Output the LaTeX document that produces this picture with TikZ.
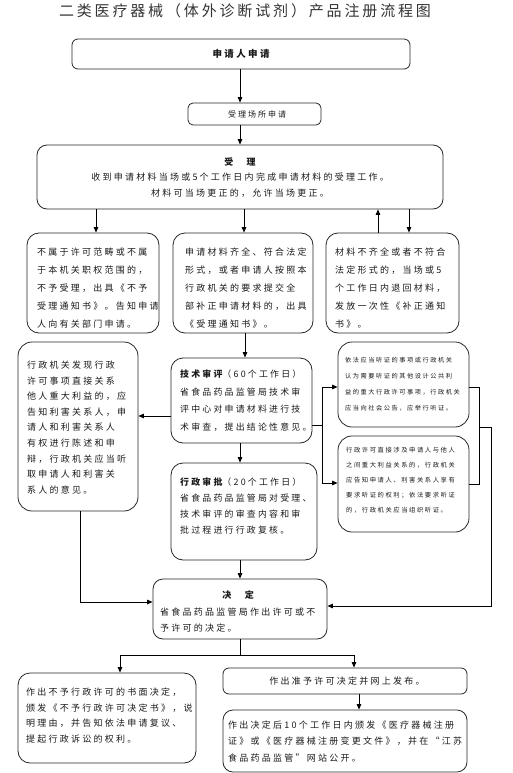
\documentclass[tikz,border=0pt]{standalone}
\usepackage{fontspec}
\usetikzlibrary{arrows.meta}
\newfontfamily\cjk{Noto Sans CJK SC}[LetterSpace=25]
\newfontfamily\cjkt{Noto Sans CJK SC}[LetterSpace=19]
\newcommand\fsz[2]{\fontsize{#1}{#2}\selectfont}
\begin{document}
\begin{tikzpicture}[x=1pt,y=-1pt,
  box/.style={draw=black!85, line width=0.8pt, inner sep=0pt},
  txt/.style={inner sep=0pt, align=left, text=black!90},
  ln/.style={line width=0.9pt, draw=black},
  arr/.style={ln, -{Triangle[length=5.5pt,width=4.5pt]}},
]
\useasboundingbox (0,0) rectangle (512,773);
% title
\node[txt, font=\cjkt\fsz{15}{18}, text=black!80] (title) at (245,11) {二类医疗器械（体外诊断试剂）产品注册流程图};
% boxes
\node[box, rounded corners=6pt, minimum width=338pt, minimum height=30pt] (apply) at (241,54) {};
\node[box, rounded corners=5pt, minimum width=133pt, minimum height=22pt] (site) at (254.5,114) {};
\node[box, rounded corners=10pt, minimum width=406pt, minimum height=64pt] (accept) at (240,177) {};
\node[box, rounded corners=12pt, minimum width=132pt, minimum height=100pt] (A) at (93,283) {};
\node[box, rounded corners=12pt, minimum width=140pt, minimum height=100pt] (B) at (243,283) {};
\node[box, rounded corners=12pt, minimum width=133pt, minimum height=100pt] (C) at (392.5,283) {};
\node[box, rounded corners=14pt, minimum width=120pt, minimum height=169pt] (L) at (78,426.5) {};
\node[box, rounded corners=12pt, minimum width=141pt, minimum height=85pt] (T) at (241.5,400.5) {};
\node[box, rounded corners=14pt, minimum width=131pt, minimum height=85pt] (R1) at (403.5,384.5) {};
\node[box, rounded corners=14pt, minimum width=131pt, minimum height=96pt] (R2) at (403.5,484) {};
\node[box, rounded corners=12pt, minimum width=146pt, minimum height=97pt] (AD) at (244,511.5) {};
\node[box, rounded corners=10pt, minimum width=174pt, minimum height=60pt] (D) at (240,609) {};
\node[box, rounded corners=12pt, minimum width=178pt, minimum height=90pt] (BL) at (107,718) {};
\node[box, rounded corners=6pt, minimum width=244pt, minimum height=26pt] (BR1) at (345,681) {};
\node[box, rounded corners=10pt, minimum width=244pt, minimum height=62pt] (BR2) at (345,741) {};
% texts
\node[txt, font=\cjk\bfseries\fsz{9.5}{12}] (tapply) at (241,54) {申请人申请};
\node[txt, font=\cjk\fsz{8}{10}] (tsite) at (257,114) {受理场所申请};
\node[txt, align=center, font=\cjk\fsz{9}{15.5}] (taccept) at (240,177.5) {{\bfseries 受　理}\\收到申请材料当场或5个工作日内完成申请材料的受理工作。\\材料可当场更正的，允许当场更正。};
\node[txt, anchor=west, font=\cjk\fsz{9}{18.2}] (tA) at (37,288) {不属于许可范畴或不属\\于本机关职权范围的，\\不予受理，出具《不予\\受理通知书》。告知申请\\人向有关部门申请。};
\node[txt, anchor=west, font=\cjk\fsz{9}{18.2}] (tB) at (185,288) {申请材料齐全、符合法定\\形式，或者申请人按照本\\行政机关的要求提交全\\部补正申请材料的，出具\\《受理通知书》。};
\node[txt, anchor=west, font=\cjk\fsz{9}{18.2}] (tC) at (335,288) {材料不齐全或者不符合\\法定形式的，当场或5\\个工作日内退回材料，\\发放一次性《补正通知\\书》。};
\node[txt, anchor=west, font=\cjk\fsz{9}{15.6}] (tL) at (27,427.5) {行政机关发现行政\\许可事项直接关系\\他人重大利益的，应\\告知利害关系人，申\\请人和利害关系人\\有权进行陈述和申\\辩，行政机关应当听\\取申请人和利害关\\系人的意见。};
\node[txt, anchor=west, font=\cjk\fsz{8.9}{17.7}] (tT) at (180,400.5) {{\bfseries 技术审评}（60个工作日）\\省食品药品监管局技术审\\评中心对申请材料进行技\\术审查，提出结论性意见。};
\node[txt, anchor=west, font=\cjk\fsz{6.2}{16}] (tR1) at (345,384) {依法应当听证的事项或行政机关\\认为需要听证的其他设计公共利\\益的重大行政许可事项，行政机关\\应当向社会公告，应举行听证。};
\node[txt, anchor=west, font=\cjk\fsz{6.3}{15}] (tR2) at (346,480) {行政许可直接涉及申请人与他人\\之间重大利益关系的，行政机关\\应告知申请人、利害关系人享有\\要求听证的权利；依法要求听证\\的，行政机关应当组织听证。};
\node[txt, anchor=west, font=\cjk\fsz{8.9}{16}] (tAD) at (180,506) {{\bfseries 行政审批}（20个工作日）\\省食品药品监管局对受理、\\技术审评的审查内容和审\\批过程进行行政复核。};
\node[txt, font=\cjk\bfseries\fsz{9}{12}] (tD1) at (238,595) {决　定};
\node[txt, anchor=west, font=\cjk\fsz{9}{16}] (tD2) at (160,620) {省食品药品监管局作出许可或不\\予许可的决定。};
\node[txt, anchor=west, font=\cjk\fsz{9}{15.7}] (tBL) at (26,715.5) {作出不予行政许可的书面决定，\\颁发《不予行政许可决定书》，说\\明理由，并告知依法申请复议、\\提起行政诉讼的权利。};
\node[txt, font=\cjk\fsz{9}{12}] (tBR1) at (347,681) {作出准予许可决定并网上发布。};
\node[txt, anchor=west, font=\cjk\fsz{9}{16.5}] (tBR2) at (228,741.5) {作出决定后10个工作日内颁发《医疗器械注册\\证》或《医疗器械注册变更文件》，并在“江苏\\食品药品监管”网站公开。};
% coordinates
\coordinate (cA) at (96,0);
\coordinate (cM) at (240,0);
\coordinate (cB) at (244,0);
\coordinate (cT) at (245,0);
\coordinate (cUp) at (378,0);
\coordinate (cDn) at (409,0);
\coordinate (cR) at (359,0);
\coordinate (rL) at (0,416);
\coordinate (j1) at (322,425);
\coordinate (j1t) at (322,387);
\coordinate (j1b) at (322,483);
\coordinate (k1) at (479,387);
\coordinate (k2) at (479,484);
\coordinate (k3) at (479,427);
\coordinate (k4) at (491,427);
\coordinate (k5) at (491,606);
\coordinate (m1) at (80,602);
\coordinate (n0) at (240,655);
\coordinate (nL) at (120,655);
\coordinate (nR) at (354,655);
% connectors
\draw[arr] (apply.south -| cM) -- (site.north -| cM);
\draw[arr] (site.south -| cM) -- (accept.north -| cM);
\draw[arr] (accept.south -| cA) -- (A.north -| cA);
\draw[arr] (accept.south -| cB) -- (B.north -| cB);
\draw[arr] (C.north -| cUp) -- (accept.south -| cUp);
\draw[arr] (accept.south -| cDn) -- (C.north -| cDn);
\draw[arr] (B.south -| cT) -- (T.north -| cT);
\draw[arr] (T.west |- rL) -- (L.east |- rL);
\draw[ln] (T.east |- j1) -- (j1);
\draw[ln] (j1t) -- (j1b);
\draw[arr] (j1t) -- (R1.west |- j1t);
\draw[arr] (j1b) -- (R2.west |- j1b);
\draw[ln] (R1.east |- k1) -- (k1) -- (k2) -- (R2.east |- k2);
\draw[arr] (k3) -- (k4) -- (k5) -- (D.east |- k5);
\draw[arr] (T.south -| cM) -- (AD.north -| cM);
\draw[arr] (AD.south -| cM) -- (D.north -| cM);
\draw[arr] (L.south -| m1) -- (m1) -- (D.west |- m1);
\draw[ln] (D.south -| n0) -- (n0);
\draw[arr] (n0) -- (nL) -- (BL.north -| nL);
\draw[arr] (n0) -- (nR) -- (BR1.north -| nR);
\draw[arr] (BR1.south -| cR) -- (BR2.north -| cR);
\end{tikzpicture}
\end{document}
